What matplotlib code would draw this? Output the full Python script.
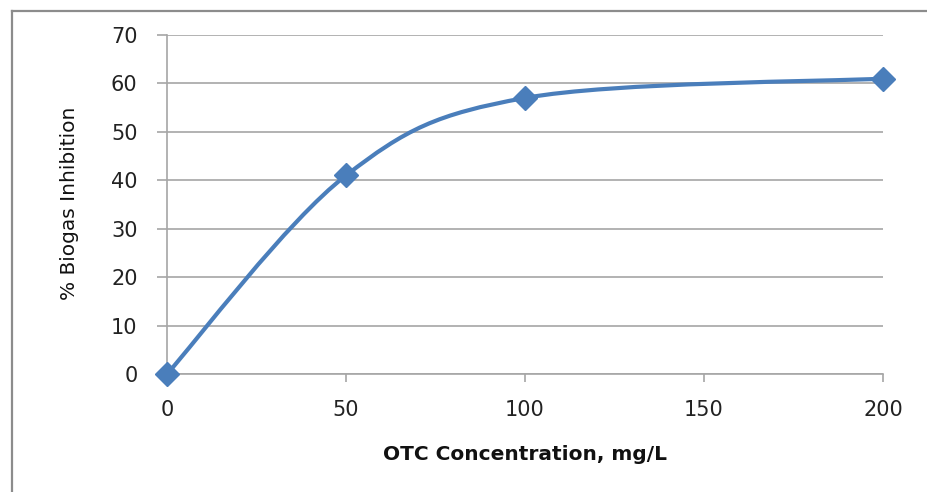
import numpy as np
import matplotlib
matplotlib.use("Agg")
import matplotlib.pyplot as plt
from matplotlib.path import Path
from matplotlib.patches import PathPatch
from matplotlib.lines import Line2D

plt.rcParams["font.family"] = ["DejaVu Sans"]

# OTC concentration (mg/L) and measured biogas inhibition (%)
concentration = [0, 50, 100, 200]
inhibition = [0, 41, 57, 61]

x_ticks = [0, 50, 100, 150, 200]
y_ticks = [0, 10, 20, 30, 40, 50, 60, 70]

x_label = "OTC Concentration, mg/L"
y_label = "% Biogas Inhibition"

line_color = "#4a7ebb"
grid_color = "#a6a6a6"

W, H, DPI = 928, 492, 100
fig = plt.figure(figsize=(W / DPI, H / DPI), dpi=DPI)
fig.patch.set_facecolor("white")

# plot area in pixels
left_px, right_px, top_px, bottom_px = 167, 883, 35, 374
ax = fig.add_axes([left_px / W, 1 - bottom_px / H,
                   (right_px - left_px) / W, (bottom_px - top_px) / H])
ax.set_xlim(0, 200)
ax.set_ylim(0, 70)

# smoothed curve through the points (cardinal Bezier, Excel-style smoothing)
pts = np.column_stack([concentration, inhibition]).astype(float)
verts = [tuple(pts[0])]
codes = [Path.MOVETO]
n = len(pts)
for i in range(n - 1):
    p0 = pts[i - 1] if i > 0 else pts[i]
    p1 = pts[i]
    p2 = pts[i + 1]
    p3 = pts[i + 2] if i + 2 < n else pts[i + 1]
    c1 = p1 + (p2 - p0) / 6.0
    c2 = p2 - (p3 - p1) / 6.0
    verts += [tuple(c1), tuple(c2), tuple(p2)]
    codes += [Path.CURVE4] * 3
curve = PathPatch(Path(verts, codes), facecolor="none", edgecolor=line_color,
                  linewidth=3.0, capstyle="round", joinstyle="round", zorder=3)
ax.add_patch(curve)

ax.plot(concentration, inhibition, linestyle="none", marker="D",
        markersize=12.5, color=line_color, zorder=4, clip_on=False)

# grid and axes styling
ax.set_yticks(y_ticks)
ax.set_xticks(x_ticks)
ax.yaxis.grid(True, color=grid_color, linewidth=1.2)
ax.set_axisbelow(True)
for side in ("top", "right"):
    ax.spines[side].set_visible(False)
for side in ("left", "bottom"):
    ax.spines[side].set_color(grid_color)
    ax.spines[side].set_linewidth(1.2)

ax.tick_params(axis="y", direction="out", length=7.2, width=1.2, color=grid_color,
               pad=14, labelsize=15, labelcolor="#222222")
ax.tick_params(axis="x", direction="out", length=6, width=1.2, color=grid_color,
               pad=13, labelsize=15, labelcolor="#222222")

fig.text(525 / W, 1 - 455 / H, x_label, ha="center", va="center",
         fontsize=14.5, fontweight="bold", family="DejaVu Sans",
         color="#111111")
fig.text(70 / W, 1 - 203 / H, y_label, ha="center", va="center", rotation=90,
         fontsize=14.5, family=["Liberation Sans Narrow", "DejaVu Sans"],
         color="#111111")

# outer frame (left and top edges)
frame_color = "#8c8c8c"
fig.add_artist(Line2D([12.5 / W, 12.5 / W], [0, 1 - 11 / H],
                      transform=fig.transFigure, color=frame_color, linewidth=1.6))
fig.add_artist(Line2D([12.5 / W, 1], [1 - 11 / H, 1 - 11 / H],
                      transform=fig.transFigure, color=frame_color, linewidth=1.6))

fig.savefig("out.png", dpi=DPI, facecolor="white")
